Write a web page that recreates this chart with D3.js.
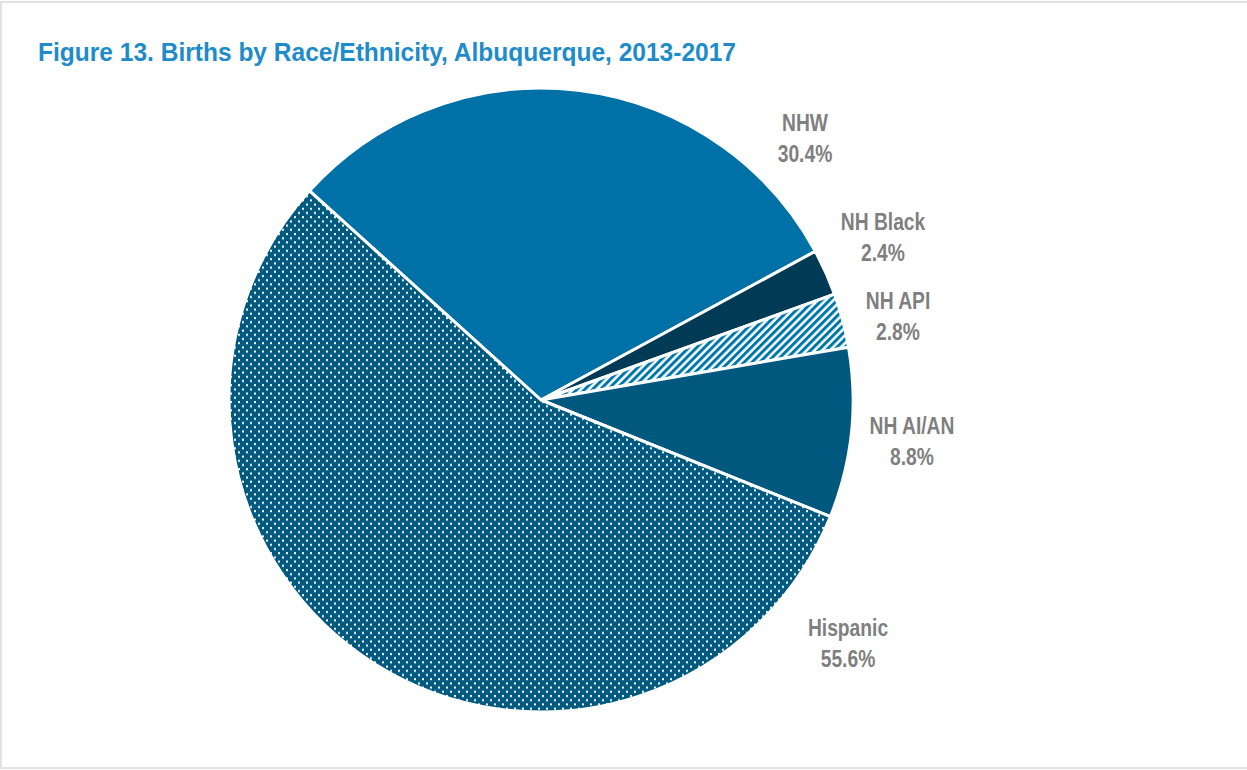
<!DOCTYPE html>
<html>
<head>
<meta charset="utf-8">
<script src="https://cdn.jsdelivr.net/npm/d3@7"></script>
<style>
  html, body { margin: 0; padding: 0; background: #fff; }
  svg { display: block; }
  text { font-family: "Liberation Sans", Arial, sans-serif; font-weight: bold; }
</style>
</head>
<body>
<svg id="chart" width="1247" height="770"></svg>
<script>
const categories = ["NHW", "NH Black", "NH API", "NH AI/AN", "Hispanic"];
const values = [30.4, 2.4, 2.8, 8.8, 55.6];
const valueLabels = ["30.4%", "2.4%", "2.8%", "8.8%", "55.6%"];
const title = "Figure 13. Births by Race/Ethnicity, Albuquerque, 2013-2017";

const fills = ["#0071A7", "#003A54", "url(#hatch)", "#00587F", "url(#dots)"];
const labelPos = [[805, 131], [883, 230], [898, 309], [912, 434], [848, 636]];

const svg = d3.select("#chart");
const defs = svg.append("defs");

const hatch = defs.append("pattern").attr("id", "hatch")
  .attr("patternUnits", "userSpaceOnUse").attr("width", 5.5).attr("height", 5.5)
  .attr("patternTransform", "rotate(45)");
hatch.append("rect").attr("width", 5.5).attr("height", 5.5).attr("fill", "#fff");
hatch.append("rect").attr("width", 3).attr("height", 5.5).attr("fill", "#0077AB");

const dots = defs.append("pattern").attr("id", "dots")
  .attr("patternUnits", "userSpaceOnUse").attr("width", 8).attr("height", 8.4);
dots.append("rect").attr("width", 8).attr("height", 8.4).attr("fill", "#00597F");
dots.append("rect").attr("x", 1).attr("y", 1).attr("width", 2).attr("height", 2).attr("fill", "#fff");
dots.append("rect").attr("x", 5).attr("y", 5.2).attr("width", 2).attr("height", 2).attr("fill", "#fff");

// frame
svg.append("rect").attr("x", 1).attr("y", 2).attr("width", 1260).attr("height", 766)
  .attr("fill", "none").attr("stroke", "#e2e2e2").attr("stroke-width", 2);

const narrow = 0.82;
svg.append("g").attr("transform", `translate(38,61) scale(${narrow},1)`)
  .append("text").attr("x", 0).attr("y", 0)
  .attr("fill", "#1E8BCB").attr("font-size", 26)
  .attr("textLength", 698 / narrow).attr("lengthAdjust", "spacingAndGlyphs")
  .text(title);

const cx = 541, cy = 400, r = 312;
const startDeg = -47.9;
const pie = d3.pie().sort(null).value(d => d)
  .startAngle(startDeg * Math.PI / 180)
  .endAngle((startDeg + 360) * Math.PI / 180);
const arc = d3.arc().innerRadius(0).outerRadius(r);

const g = svg.append("g").attr("transform", `translate(${cx},${cy})`);
g.selectAll("path").data(pie(values)).join("path")
  .attr("d", arc)
  .attr("fill", (d, i) => fills[i])
  .attr("stroke", "#fff").attr("stroke-width", 3).attr("stroke-linejoin", "round");

const lab = svg.append("g");
categories.forEach((c, i) => {
  const t = lab.append("g")
    .attr("transform", `translate(${labelPos[i][0]},${labelPos[i][1]}) scale(${narrow},1)`)
    .append("text").attr("text-anchor", "middle")
    .attr("fill", "#7F7F7F").attr("font-size", 23.5);
  t.append("tspan").attr("x", 0).attr("y", 0).text(c);
  t.append("tspan").attr("x", 0).attr("y", 31).text(valueLabels[i]);
});
</script>
</body>
</html>
